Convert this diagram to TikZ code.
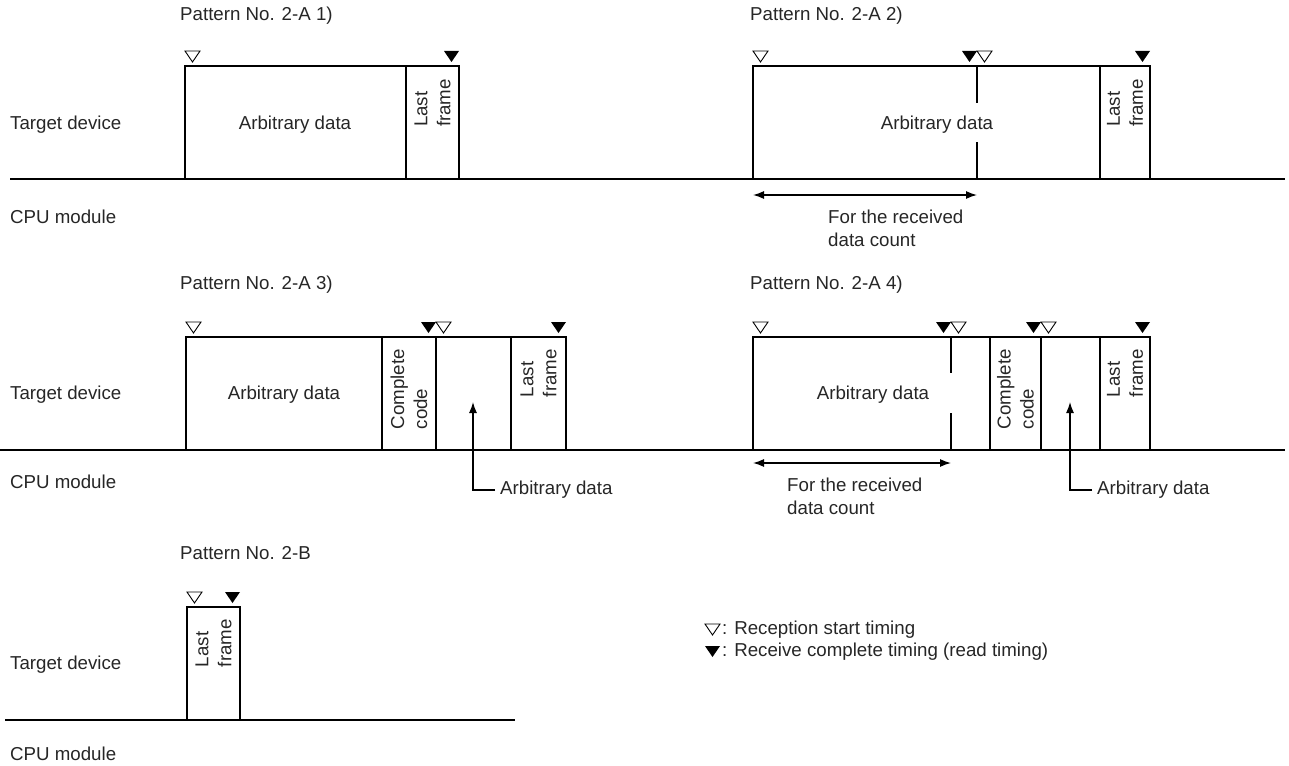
\documentclass[tikz,border=0pt]{standalone}
\usepackage{fontspec}
\setmainfont{Liberation Sans}
\usetikzlibrary{arrows.meta}

\tikzset{
  pics/rxstart/.style={code={\draw[line width=0.9pt] (0,0) -- (15,0) -- (7.5,11) -- cycle;}},
  pics/rxdone/.style={code={\fill (0,0) -- (15,0) -- (7.5,11) -- cycle;}},
}

\begin{document}
\begin{tikzpicture}[x=1pt, y=-1pt, >={Latex[length=11pt,width=8pt]},
    every node/.style={font=\fontsize{18.7}{23}\selectfont, inner sep=0pt, text=black!85},
    bus/.style={line width=1.8pt},
    frm/.style={line width=1.3pt},
    lbl/.style={anchor=west},
    vtext/.style={rotate=90, anchor=east, align=left},
    note/.style={anchor=north west, align=left},
  ]
  \useasboundingbox (0,0) rectangle (1289,765);

  % pattern 2-A 1)
  \node[lbl] (title1) at (180,16) {Pattern No. 2-A 1)};
  \node[lbl] (dev1) at (10,125) {Target device};
  \node[lbl] (cpu1) at (10,217) {CPU module};
  \draw[bus] (10,179) -- (1285,179);
  \draw[frm] (185,179) |- (459,66) -- (459,179);
  \draw[frm] (406,66) -- (406,179);
  \node (data1) at (295,125) {Arbitrary data};
  \node[vtext] (last1) at (432.5,79) {Last\\frame};

  % pattern 2-A 2)
  \node[lbl] (title2) at (750,16) {Pattern No. 2-A 2)};
  \draw[frm] (753,179) |- (1150,66) -- (1150,179);
  \draw[frm] (977,66) -- (977,103) (977,142) -- (977,179);
  \draw[frm] (1100,66) -- (1100,179);
  \node (data2) at (937,125) {Arbitrary data};
  \node[vtext] (last2) at (1125,79) {Last\\frame};
  \coordinate (cnt2a) at (753,195);
  \coordinate (cnt2b) at (977,195);
  \draw[<->, frm] (cnt2a) -- (cnt2b);
  \node[note] (cnt2) at (828,210) {For the received\\data count};

  % row 1 timing marks
  \foreach \x in {185,753,977} \pic at (\x,51) {rxstart};
  \foreach \x in {459,977,1150} \pic at (\x-15,51) {rxdone};

  % pattern 2-A 3)
  \node[lbl] (title3) at (180,285) {Pattern No. 2-A 3)};
  \node[lbl] (dev2) at (10,395) {Target device};
  \node[lbl] (cpu2) at (10,482) {CPU module};
  \draw[bus] (0,450) -- (1285,450);
  \draw[frm] (186,450) |- (566,337) -- (566,450);
  \foreach \x in {382,436,511} \draw[frm] (\x,337) -- (\x,450);
  \node (data3) at (284,395) {Arbitrary data};
  \node[vtext] (code3) at (409,349) {Complete\\code};
  \node[vtext] (last3) at (538.5,349) {Last\\frame};
  \node[lbl] (arb3) at (500,490) {Arbitrary data};
  \coordinate (tip3) at (473,402);
  \draw[->, frm] ([xshift=-5pt]arb3.west) -| (tip3);

  % pattern 2-A 4)
  \node[lbl] (title4) at (750,285) {Pattern No. 2-A 4)};
  \draw[frm] (753,450) |- (1150,337) -- (1150,450);
  \draw[frm] (951,337) -- (951,373) (951,413) -- (951,450);
  \foreach \x in {990,1041,1100} \draw[frm] (\x,337) -- (\x,450);
  \node (data4) at (873,395) {Arbitrary data};
  \node[vtext] (code4) at (1015.5,349) {Complete\\code};
  \node[vtext] (last4) at (1125,349) {Last\\frame};
  \node[lbl] (arb4) at (1097,490) {Arbitrary data};
  \coordinate (tip4) at (1070,402);
  \draw[->, frm] ([xshift=-5pt]arb4.west) -| (tip4);
  \coordinate (cnt4a) at (753,463);
  \coordinate (cnt4b) at (951,463);
  \draw[<->, frm] (cnt4a) -- (cnt4b);
  \node[note] (cnt4) at (787,478) {For the received\\data count};

  % row 2 timing marks
  \foreach \x in {186,436,753,951,1041} \pic at (\x,322) {rxstart};
  \foreach \x in {436,566,951,1041,1150} \pic at (\x-15,322) {rxdone};

  % pattern 2-B
  \node[lbl] (title5) at (180,553) {Pattern No. 2-B};
  \node[lbl] (dev3) at (10,665) {Target device};
  \node[lbl] (cpu3) at (10,754) {CPU module};
  \draw[bus] (5,720) -- (515,720);
  \draw[frm] (187,720) |- (240,607) -- (240,720);
  \node[vtext] (last5) at (213.5,619) {Last\\frame};
  \pic at (187,592) {rxstart};
  \pic at (225,592) {rxdone};

  % legend
  \pic at (705,624) {rxstart};
  \node[lbl] (key1) at (722,630) {: Reception start timing};
  \pic at (705,646) {rxdone};
  \node[lbl] (key2) at (722,652) {: Receive complete timing (read timing)};
\end{tikzpicture}
\end{document}
